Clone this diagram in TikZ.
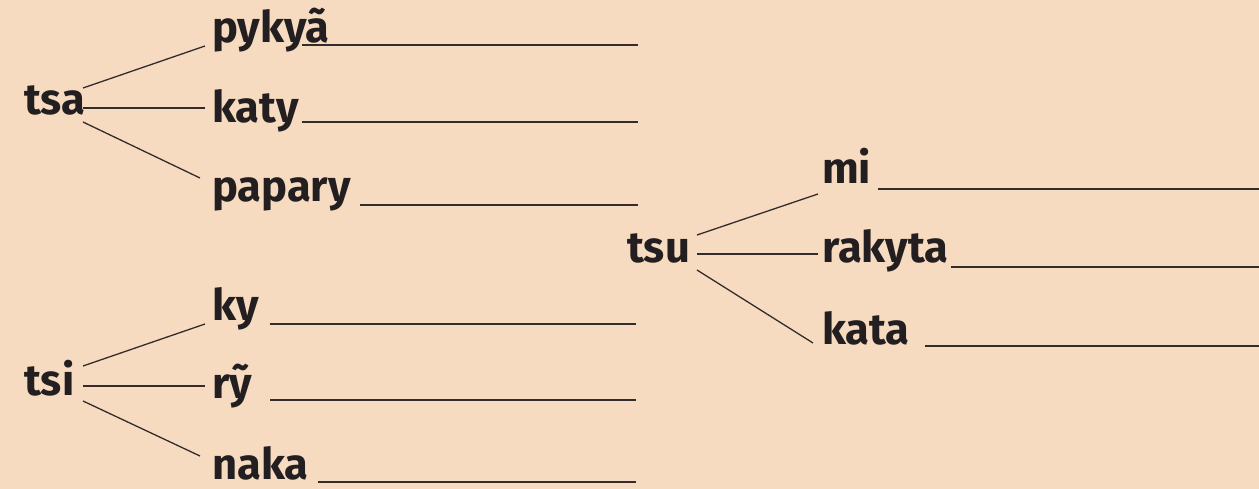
\documentclass[tikz,border=0pt]{standalone}
\usepackage{fontspec}
\setmainfont{Fira Sans}
\usetikzlibrary{calc}
\definecolor{paper}{HTML}{F6DBC1}
\definecolor{ink}{HTML}{231F20}
\definecolor{rule}{HTML}{332C2C}
\tikzset{
  word/.style={anchor=base west, inner sep=0pt, text=ink, font=\fontsize{43.5}{43.5}\selectfont\bfseries},
  branch/.style={draw=rule, line width=1.3pt},
  blank/.style={draw=rule, line width=1.7pt},
}
\begin{document}
\begin{tikzpicture}[x=1pt, y=-1pt]
  \fill[paper] (0,0) rectangle (1259,489);
  \useasboundingbox (0,0) rectangle (1259,489);

  % roots
  \node[word] (tsa) at (24,115) {tsa};
  \node[word] (tsi) at (24,395) {tsi};
  \node[word] (tsu) at (627,263) {tsu};

  % words of the tsa group
  \node[word] (pykya)  at (212,43)  {pykyã};
  \node[word] (katy)   at (212,123) {katy};
  \node[word] (papary) at (212,202) {papary};

  % words of the tsi group
  \node[word] (ky)   at (212,320) {ky};
  \node[word] (ry)   at (212,398) {rỹ};
  \node[word] (naka) at (212,479) {naka};

  % words of the tsu group
  \node[word] (mi)     at (822,184) {mi};
  \node[word] (rakyta) at (822,263) {rakyta};
  \node[word] (kata)   at (822,344) {kata};

  % branch end points
  \coordinate (tsa-a) at (83,88);   \coordinate (pykya-in)  at (205,46);
  \coordinate (tsa-b) at (83,108);  \coordinate (katy-in)   at (205,108);
  \coordinate (tsa-c) at (83,122);  \coordinate (papary-in) at (200,178);
  \coordinate (tsi-a) at (83,366);  \coordinate (ky-in)     at (205,324);
  \coordinate (tsi-b) at (83,386);  \coordinate (ry-in)     at (205,386);
  \coordinate (tsi-c) at (83,401);  \coordinate (naka-in)   at (200,456);
  \coordinate (tsu-a) at (697,235); \coordinate (mi-in)     at (818,194);
  \coordinate (tsu-b) at (697,254); \coordinate (rakyta-in) at (818,254);
  \coordinate (tsu-c) at (697,270); \coordinate (kata-in)   at (813,343);

  \draw[branch] (tsa-a) -- (pykya-in);
  \draw[branch] (tsa-b) -- (katy-in);
  \draw[branch] (tsa-c) -- (papary-in);
  \draw[branch] (tsi-a) -- (ky-in);
  \draw[branch] (tsi-b) -- (ry-in);
  \draw[branch] (tsi-c) -- (naka-in);
  \draw[branch] (tsu-a) -- (mi-in);
  \draw[branch] (tsu-b) -- (rakyta-in);
  \draw[branch] (tsu-c) -- (kata-in);

  % answer lines
  \coordinate (pykya-s)  at (302,45);  \coordinate (pykya-e)  at (638,45);
  \coordinate (katy-s)   at (302,122); \coordinate (katy-e)   at (638,122);
  \coordinate (papary-s) at (360,205); \coordinate (papary-e) at (638,205);
  \coordinate (ky-s)     at (270,324); \coordinate (ky-e)     at (636,324);
  \coordinate (ry-s)     at (270,400); \coordinate (ry-e)     at (636,400);
  \coordinate (naka-s)   at (318,482); \coordinate (naka-e)   at (636,482);
  \coordinate (mi-s)     at (878,189); \coordinate (mi-e)     at (1259,189);
  \coordinate (rakyta-s) at (951,267); \coordinate (rakyta-e) at (1259,267);
  \coordinate (kata-s)   at (925,346); \coordinate (kata-e)   at (1259,346);

  \foreach \w in {pykya,katy,papary,ky,ry,naka,mi,rakyta,kata}
    \draw[blank] (\w-s) -- (\w-e);
\end{tikzpicture}
\end{document}
